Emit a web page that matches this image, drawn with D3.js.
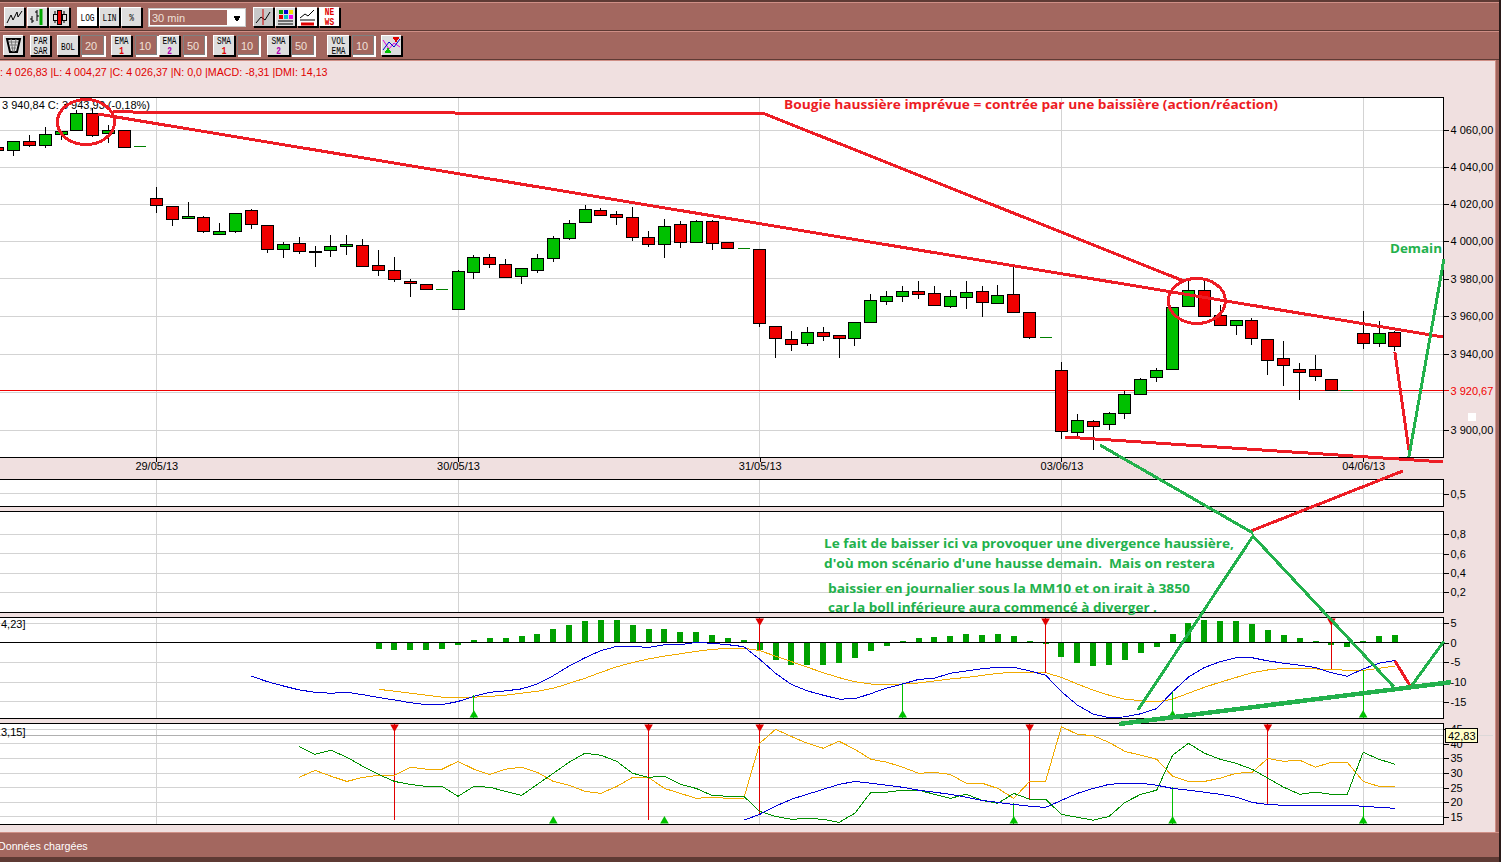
<!DOCTYPE html>
<html>
<head>
<meta charset="utf-8">
<title>CAC 30 min</title>
<script src="https://cdn.jsdelivr.net/npm/d3@7"></script>
<style>
  html, body { margin: 0; padding: 0; background: #f0e0e0; overflow: hidden; }
  svg { display: block; font-family: "Liberation Sans", Arial, sans-serif; }
  .tick text { font-size: 11px; fill: #000; font-family: "Liberation Sans", Arial, sans-serif; }
  .note { font-family: "Open Sans", sans-serif; font-weight: 700; }
</style>
</head>
<body>
<div id="chart"></div>
<script>
// candles, 30 min bars
const opens = [4050.5,4049.1,4054.0,4051.6,4057.8,4060.0,4069.2,4058.4,4060.0,4051.0,
  4023.2,4018.9,4012.4,4013.0,4003.8,4005.4,4016.7,4008.6,3995.7,3998.9,
  3994.6,3995.2,3997.3,3997.9,3987.2,3984.6,3978.7,3977.1,3974.4,3963.7,
  3983.5,3991.5,3987.8,3981.4,3984.6,3990.9,4001.6,4010.3,4016.7,4014.6,
  4013.0,4002.2,3998.4,4009.2,3999.5,4010.8,3999.5,3996.2,3995.7,3954.7,
  3947.8,3945.7,3951.6,3950.0,3948.4,3956.8,3968.0,3970.6,3973.3,3972.3,
  3965.3,3970.1,3973.3,3966.9,3971.7,3962.1,3948.9,3931.5,3899.0,3904.7,
  3903.1,3908.9,3918.9,3927.8,3932.0,3965.3,3973.9,3960.5,3955.2,3957.9,
  3947.8,3937.8,3932.0,3932.0,3926.7,3921.0,3951.0,3945.7,3951.6];
const closes = [4048.9,4054.0,4051.6,4057.8,4059.5,4069.2,4057.1,4060.0,4050.8,4051.0,
  4019.4,4011.9,4013.5,4005.4,4005.4,4015.1,4009.2,3995.7,3998.4,3994.6,
  3994.1,3997.3,3998.4,3986.6,3984.6,3979.8,3977.6,3974.4,3974.4,3984.0,
  3991.5,3987.8,3980.8,3985.6,3990.9,4001.6,4009.7,4017.3,4014.0,4013.0,
  4002.2,3998.4,4008.1,3999.5,4010.8,3998.9,3996.2,3996.2,3956.3,3948.4,
  3945.2,3951.6,3949.5,3948.4,3956.8,3968.5,3970.6,3973.3,3971.7,3965.8,
  3970.6,3972.8,3967.4,3971.2,3962.1,3948.9,3948.9,3899.5,3905.2,3902.1,
  3908.9,3918.9,3926.7,3931.5,3964.8,3973.9,3960.0,3955.2,3957.9,3948.4,
  3936.7,3934.1,3930.4,3928.3,3921.0,3921.0,3945.7,3951.0,3944.1];
const highs = [4050.9,4054.2,4057.4,4061.8,4059.5,4071.0,4072.1,4062.7,4060.0,4051.0,
  4029.2,4018.9,4021.1,4013.7,4009.7,4015.3,4017.4,4008.6,3999.5,4002.2,
  3997.3,4003.2,4003.2,4001.1,3995.2,3991.5,3979.8,3977.1,3974.4,3984.6,
  3992.6,3993.5,3990.4,3985.6,3993.5,4002.7,4011.3,4019.4,4018.0,4016.2,
  4018.4,4005.6,4011.9,4010.8,4011.3,4011.3,3999.5,3996.2,3995.7,3954.7,
  3952.1,3954.2,3954.2,3950.0,3956.8,3971.7,3973.3,3976.0,3978.7,3976.0,
  3973.9,3978.7,3976.0,3976.5,3987.8,3962.1,3948.9,3935.7,3908.4,3905.2,
  3909.4,3920.4,3927.3,3932.5,3964.8,3979.4,3979.4,3965.8,3957.9,3958.9,
  3947.8,3946.8,3935.2,3939.4,3926.7,3921.0,3962.7,3957.4,3952.1];
const lows = [4048.7,4046.2,4051.1,4050.6,4054.6,4060.0,4056.2,4052.9,4050.8,4051.0,
  4015.5,4008.4,4012.4,4004.6,4003.8,4004.6,4006.8,3993.9,3991.2,3993.4,
  3986.4,3991.8,3992.8,3986.6,3981.7,3978.5,3970.5,3974.4,3974.4,3963.7,
  3979.8,3986.0,3980.8,3977.4,3983.3,3989.1,4000.9,4010.3,4014.0,4009.0,
  4000.3,3997.1,3991.2,3996.6,3999.5,3995.5,3996.2,3996.2,3954.5,3938.1,
  3941.8,3944.5,3947.1,3938.1,3944.5,3956.8,3966.2,3967.8,3969.3,3965.8,
  3964.6,3964.0,3959.8,3966.9,3962.1,3948.1,3948.9,3895.3,3896.3,3889.5,
  3900.0,3905.8,3918.3,3925.2,3931.5,3965.3,3960.0,3955.2,3950.0,3944.7,
  3928.8,3923.1,3915.7,3925.7,3921.0,3921.0,3942.5,3943.6,3941.5];

// macd histogram starts at bar 24
const histStart = 24;
const macdHist = [-1.6,-1.86,-1.86,-1.86,-1.6,-0.6,0.68,1.18,1.18,1.7,2.2,3.46,4.47,5.5,5.74,5.74,
  4.47,3.46,3.46,2.7,2.7,1.94,1.18,0.68,-1.9,-4.39,-5.65,-5.65,-5.65,-5.15,-3.88,-2.1,-0.84,0.42,
  1.18,1.43,1.7,2.2,1.94,2.2,1.7,0.42,-0.34,-3.63,-5.15,-5.9,-5.65,-4.39,-2.6,-1.1,2.2,4.98,5.74,
  5.5,5.5,4.73,3.2,1.94,1.18,0.42,-0.68,-1.0,0.42,1.7,1.94];
// macd line starts at bar 16
const macdStart = 16;
const macdLine = [-8.5,-9.87,-10.96,-11.97,-12.56,-12.8,-12.56,-13.16,-13.9,-14.5,-15.2,-15.7,-15.7,-14.9,
  -13.6,-12.56,-12.2,-11.7,-10.46,-8.35,-5.9,-3.8,-2.0,-0.92,-0.92,-1.2,-0.5,-0.5,0.1,-0.16,-0.5,-1.0,
  -4.2,-7.75,-10.6,-12.2,-13.3,-14.3,-14.2,-12.9,-11.47,-10.46,-9.3,-9.0,-7.75,-7.16,-6.6,-6.2,-6.2,-7.16,
  -8.2,-12.4,-15.8,-18.1,-19.0,-18.8,-18.0,-16.7,-12.4,-8.7,-6.3,-4.8,-3.8,-3.8,-4.6,-5.2,-5.7,-6.3,-7.6,
  -8.5,-6.65,-5.2,-4.5];
const macdSignal = [-11.8,-12.3,-12.8,-13.3,-13.8,-13.8,-13.8,-13.6,-13.3,-12.8,-12.3,-11.55,-10.3,-9.0,-7.5,-6.1,
  -5.0,-4.1,-3.4,-2.8,-2.2,-1.7,-1.4,-1.4,-2.0,-3.4,-4.8,-6.2,-7.6,-8.85,-9.9,-10.46,-10.6,-10.46,-10.2,-9.7,
  -9.2,-8.8,-8.3,-7.75,-7.5,-7.5,-7.6,-8.8,-10.46,-12.0,-13.3,-14.3,-14.7,-15.0,-14.3,-12.8,-11.3,-10.0,-8.8,
  -7.6,-6.9,-6.5,-6.5,-6.65,-6.75,-7.0,-7.0,-6.5,-5.9];
const macdSell = [[48,-1.9],[66,-7.6],[84,-6.75]];
const macdBuy = [[30,-13.3],[57,-10.46],[74,-12.4],[86,-7.0]];

// dmi lines
const dmiStart = 19;
const dmiGreen = [39.0,36.4,37.8,35.4,32.3,29.5,27.1,26.1,25.4,25.4,22.0,25.4,25.1,23.7,22.3,26.1,29.9,33.7,36.8,36.1,
  34.0,29.9,28.5,28.9,26.1,24.7,22.3,22.0,22.0,16.8,15.1,14.1,14.4,14.1,13.07,16.2,23.4,23.4,24.1,24.1,
  22.7,21.3,22.7,20.6,19.6,23.0,21.0,21.0,15.8,14.8,13.8,15.1,19.9,22.7,24.1,36.1,40.2,36.8,34.7,33.3,
  31.3,28.2,25.1,22.7,23.4,22.7,22.7,37.1,34.7,33.0];
const dmiOrange = [28.5,30.9,28.9,27.1,28.5,29.2,29.2,32.0,31.3,31.3,34.0,31.3,29.5,31.3,32.0,30.2,27.1,25.8,23.7,23.0,
  25.4,28.5,28.5,24.7,23.0,21.3,21.7,21.3,21.3,40.2,45.0,42.5,40.2,38.5,40.9,38.1,34.7,33.7,32.0,29.9,
  30.2,29.5,26.5,26.5,24.7,21.3,27.1,27.1,45.9,43.3,42.8,40.5,37.4,36.1,34.7,28.9,27.1,27.1,28.2,29.9,
  30.2,35.0,34.0,34.4,32.0,33.7,33.7,27.1,25.4,25.4];
const adxStart = 47;
const adxLine = [13.8,15.8,18.6,21.0,22.7,24.4,26.1,27.1,26.5,25.8,25.1,24.1,23.4,22.7,21.7,20.6,19.9,19.2,18.6,18.2,
  20.6,23.0,24.7,26.1,26.5,26.5,25.8,24.7,24.1,23.4,22.7,21.7,19.9,19.2,18.9,18.9,18.9,18.9,18.9,18.6,18.2,17.9];
const dmiSell = [[25,13.9],[41,13.9],[48,15.8],[65,21.2],[80,19.4]];
const dmiBuy = [[35,null],[42,null],[64,19.6],[74,25.3],[86,18.7]];

const dateBars = [10, 29, 48, 67, 86];
const dateLabels = ["29/05/13", "30/05/13", "31/05/13", "03/06/13", "04/06/13"];
const priceGrid = [3900, 3920, 3940, 3960, 3980, 4000, 4020, 4040, 4060];
const priceTicks = [3900, 3940, 3960, 3980, 4000, 4020, 4040, 4060];
const lastPrice = 3920.67;
const dmiCurrent = 42.83;

// hand drawn lines, [bar, value] on the price scale
const redPriceLines = [
  [[7.27,4070.0],[48.33,4068.9],[74.71,3978.8]],
  [[6.33,4068.9],[91.03,3949.1]],
  [[67.22,3896.5],[91.03,3883.5]],
  [[88.0,3941.1],[88.88,3889.7]],
  [[78.93,3847.7],[88.5,3878.8]]
];
const greenPriceLines = [
  [[88.88,3886.1],[91.09,3990.6]],
  [[69.43,3892.3],[79.06,3846.7]],
  [[71.82,3756.5],[79.06,3845.1],[87.94,3768.1]]
];
// same thing on the macd scale
const redMacdLines = [[[88.0,-4.6],[89.0,-11.2]]];
const greenMacdLines = [[[89.0,-11.2],[91.09,0.4]]];
const thickMacdLine = [[70.62,-20.6],[91.53,-10.0]];
const circles = [[5.57,4064.5],[75.53,3968.2]];

const width = 1501, height = 862;
const plotRight = 1443.5;
const brown = "#a3675f", pink = "#f0e0e0", gridCol = "#d3d3d3";
const lightEdge = "#cf8f86", darkEdge = "#5e3a34";
const upCol = "#00c000", downCol = "#f00000", noteRed = "#ed1c24", noteGreen = "#22b14c";

const svg = d3.select("#chart").append("svg")
  .attr("width", width).attr("height", height).attr("viewBox", `0 0 ${width} ${height}`);

svg.append("rect").attr("width", width).attr("height", height).attr("fill", pink);

const x = d3.scaleLinear().domain([0, 88]).range([-2.5, 1394.9]);
const yPrice = d3.scaleLog().domain([3900, 4060]).range([430.3, 130.3]);
const yVol = d3.scaleLinear().domain([0, 1]).range([507.5, 479.5]);
const yOsc = d3.scaleLinear().domain([0, 1]).range([611.7, 515]);
const yMacd = d3.scaleLinear().domain([-15, 5]).range([701.9, 623]);
const yDmi = d3.scaleLinear().domain([15, 45]).range([816.7, 729.3]);

const frFormat = d3.formatLocale({decimal: ",", thousands: "\u00a0", grouping: [3], currency: ["", ""]});

// one white box per panel, with vertical date grid
function addPanel(top, bottom, yScale, gridVals, tickVals, fmt) {
  const g = svg.append("g");
  g.append("rect").attr("x", -1).attr("y", top).attr("width", plotRight + 1).attr("height", bottom - top)
    .attr("fill", "#fff");
  g.selectAll(".vg").data(dateBars).enter().append("line")
    .attr("x1", d => x(d)).attr("x2", d => x(d)).attr("y1", top).attr("y2", bottom)
    .attr("stroke", gridCol).attr("shape-rendering", "crispEdges");
  g.selectAll(".hg").data(gridVals).enter().append("line")
    .attr("x1", 0).attr("x2", plotRight).attr("y1", d => yScale(d)).attr("y2", d => yScale(d))
    .attr("stroke", gridCol).attr("shape-rendering", "crispEdges");
  const axis = svg.append("g").attr("transform", `translate(${plotRight},0)`)
    .call(d3.axisRight(yScale).tickValues(tickVals).tickFormat(fmt).tickSize(5).tickPadding(2));
  axis.select(".domain").remove();
  axis.selectAll("line").attr("stroke", "#000").attr("shape-rendering", "crispEdges");
  return g;
}
function addFrame(top, bottom) {
  svg.append("rect").attr("x", -1).attr("y", top).attr("width", plotRight + 1).attr("height", bottom - top)
    .attr("fill", "none").attr("stroke", "#000").attr("shape-rendering", "crispEdges");
}

const fmtPrice = d => frFormat.format(",.2f")(d);
const mainPanel = addPanel(97.5, 457.5, yPrice, priceGrid, priceTicks, fmtPrice);
addPanel(479.5, 506.5, yVol, [0.5], [0.5], d => frFormat.format(".1f")(d));
addPanel(511.5, 612.5, yOsc, [0.2, 0.4, 0.6, 0.8], [0.2, 0.4, 0.6, 0.8], d => frFormat.format(".1f")(d));
const macdPanel = addPanel(617.5, 718.5, yMacd, [-15, -10, -5, 0, 5], [-15, -10, -5, 0, 5], d => String(d).replace("\u2212", "-"));
const dmiPanel = addPanel(723.5, 824.5, yDmi, [15, 20, 25, 30, 35, 40, 45], [15, 20, 25, 30, 35, 40, 45], d => d);

// date axis under the price panel
const dateAxis = svg.append("g").attr("transform", "translate(0,457.5)")
  .call(d3.axisBottom(x).tickValues(dateBars).tickFormat((d, i) => dateLabels[i]).tickSize(4).tickPadding(1));
dateAxis.select(".domain").remove();
dateAxis.selectAll("line").attr("stroke", "#000").attr("shape-rendering", "crispEdges");

// price panel
mainPanel.append("line").attr("x1", 0).attr("x2", plotRight + 5)
  .attr("y1", yPrice(lastPrice)).attr("y2", yPrice(lastPrice))
  .attr("stroke", "#f00000").attr("shape-rendering", "crispEdges");
svg.append("text").attr("x", plotRight + 7).attr("y", yPrice(lastPrice) + 4)
  .attr("font-size", 11).attr("fill", "#f00000").text(fmtPrice(lastPrice));

const candles = opens.map((o, i) => ({i, o, c: closes[i], h: highs[i], l: lows[i]}));
const candleG = mainPanel.append("g").attr("shape-rendering", "crispEdges");
candleG.selectAll(".wick").data(candles.filter(d => d.o !== d.c)).enter().append("line")
  .attr("x1", d => x(d.i)).attr("x2", d => x(d.i))
  .attr("y1", d => yPrice(d.h)).attr("y2", d => yPrice(d.l)).attr("stroke", "#000");
candleG.selectAll(".body").data(candles.filter(d => d.o !== d.c)).enter().append("rect")
  .attr("x", d => x(d.i) - 6).attr("width", 12)
  .attr("y", d => yPrice(Math.max(d.o, d.c)))
  .attr("height", d => Math.max(1, yPrice(Math.min(d.o, d.c)) - yPrice(Math.max(d.o, d.c))))
  .attr("fill", d => d.c > d.o ? upCol : downCol).attr("stroke", "#000");
candleG.selectAll(".flat").data(candles.filter(d => d.o === d.c)).enter().append("line")
  .attr("x1", d => x(d.i) - 6).attr("x2", d => x(d.i) + 6)
  .attr("y1", d => yPrice(d.c)).attr("y2", d => yPrice(d.c)).attr("stroke", "#008000");

svg.append("text").attr("x", 2).attr("y", 109).attr("font-size", 11).attr("fill", "#000")
  .text("3 940,84  C: 3 943,93 (-0,18%)");
svg.append("rect").attr("x", 1468).attr("y", 413).attr("width", 8).attr("height", 8).attr("fill", "#fff");

// macd panel
macdPanel.selectAll(".bar").data(macdHist).enter().append("rect")
  .attr("x", (d, i) => x(i + histStart) - 3).attr("width", 6)
  .attr("y", d => yMacd(Math.max(0, d)))
  .attr("height", d => Math.abs(yMacd(d) - yMacd(0)))
  .attr("fill", "#00a000").attr("shape-rendering", "crispEdges");
macdPanel.append("line").attr("x1", 0).attr("x2", plotRight).attr("y1", yMacd(0)).attr("y2", yMacd(0))
  .attr("stroke", "#000").attr("shape-rendering", "crispEdges");

function seriesLine(parent, values, start, yScale, col, w) {
  const line = d3.line().x((d, i) => x(i + start)).y(d => yScale(d));
  parent.append("path").attr("d", line(values)).attr("fill", "none").attr("stroke", col).attr("stroke-width", w)
    .attr("shape-rendering", "crispEdges");
}
seriesLine(macdPanel, macdSignal, histStart, yMacd, "#f0aa00", 1);
seriesLine(macdPanel, macdLine, macdStart, yMacd, "#0000d8", 1);

// buy and sell flags, red from the top edge, green from the bottom edge
function addFlags(parent, sells, buys, yScale, top, bottom) {
  const sym = d3.symbol().type(d3.symbolTriangle).size(32);
  parent.selectAll(".sl").data(sells).enter().append("line")
    .attr("x1", d => x(d[0])).attr("x2", d => x(d[0])).attr("y1", top).attr("y2", d => yScale(d[1]))
    .attr("stroke", "#e00000").attr("shape-rendering", "crispEdges");
  parent.selectAll(".st").data(sells).enter().append("path").attr("d", sym)
    .attr("transform", d => `translate(${x(d[0])},${top + 3}) rotate(180)`).attr("fill", "#e00000");
  parent.selectAll(".bl").data(buys.filter(d => d[1] !== null)).enter().append("line")
    .attr("x1", d => x(d[0])).attr("x2", d => x(d[0])).attr("y1", bottom).attr("y2", d => yScale(d[1]))
    .attr("stroke", "#00c000").attr("shape-rendering", "crispEdges");
  parent.selectAll(".bt").data(buys).enter().append("path").attr("d", sym)
    .attr("transform", d => `translate(${x(d[0])},${bottom - 3})`).attr("fill", "#00c000");
}
addFlags(macdPanel, macdSell, macdBuy, yMacd, 618, 718);

svg.append("text").attr("x", 1).attr("y", 628).attr("font-size", 11).text("4,23]");

// dmi panel
dmiPanel.append("line").attr("x1", 0).attr("x2", plotRight).attr("y1", yDmi(dmiCurrent)).attr("y2", yDmi(dmiCurrent))
  .attr("stroke", "#b0b0b0").attr("shape-rendering", "crispEdges");
svg.append("line").attr("x1", plotRight + 30).attr("x2", 1493).attr("y1", yDmi(dmiCurrent)).attr("y2", yDmi(dmiCurrent))
  .attr("stroke", "#dcd8d8").attr("shape-rendering", "crispEdges");
addFlags(dmiPanel, dmiSell, dmiBuy, yDmi, 724, 824);
seriesLine(dmiPanel, dmiOrange, dmiStart, yDmi, "#f0aa00", 1);
seriesLine(dmiPanel, dmiGreen, dmiStart, yDmi, "#009000", 1);
seriesLine(dmiPanel, adxLine, adxStart, yDmi, "#0000d8", 1);
svg.append("text").attr("x", 1).attr("y", 736).attr("font-size", 11).text("3,15]");

const tip = svg.append("g").attr("transform", `translate(${plotRight + 2},${yDmi(dmiCurrent) - 7})`);
tip.append("rect").attr("width", 32).attr("height", 14).attr("fill", "#ffffc8").attr("stroke", "#000")
  .attr("shape-rendering", "crispEdges");
tip.append("text").attr("x", 2.5).attr("y", 11).attr("font-size", 11).text(frFormat.format(".2f")(dmiCurrent));

addFrame(97.5, 457.5);
addFrame(479.5, 506.5);
addFrame(511.5, 612.5);
addFrame(617.5, 718.5);
addFrame(723.5, 824.5);

// annotations drawn on top of the screenshot
const notes = svg.append("g").attr("shape-rendering", "crispEdges");
const priceLine = d3.line().x(d => x(d[0])).y(d => yPrice(d[1]));
const macdNote = d3.line().x(d => x(d[0])).y(d => yMacd(d[1]));
function drawNotes(data, lineGen, col, w) {
  notes.selectAll(null).data(data).enter().append("path").attr("d", lineGen)
    .attr("fill", "none").attr("stroke", col).attr("stroke-width", w);
}
drawNotes(redPriceLines, priceLine, noteRed, 3);
drawNotes(greenPriceLines, priceLine, noteGreen, 3);
drawNotes(redMacdLines, macdNote, noteRed, 3);
drawNotes(greenMacdLines, macdNote, noteGreen, 3);
drawNotes([thickMacdLine], macdNote, noteGreen, 4.5);
notes.selectAll("ellipse").data(circles).enter().append("ellipse")
  .attr("cx", d => x(d[0])).attr("cy", d => yPrice(d[1])).attr("rx", 28.5).attr("ry", 22.5)
  .attr("fill", "none").attr("stroke", noteRed).attr("stroke-width", 3);

const noteTexts = [
  {t: "Bougie haussière imprévue = contrée par une baissière (action/réaction)", x: 784, y: 109, c: noteRed, w: 494},
  {t: "Demain", x: 1390, y: 253, c: noteGreen, w: 52},
  {t: "Le fait de baisser ici va provoquer une divergence haussière,", x: 824, y: 548, c: noteGreen, w: 410},
  {t: "d'où mon scénario d'une hausse demain.  Mais on restera", x: 824, y: 568, c: noteGreen, w: 391},
  {t: "baissier en journalier sous la MM10 et on irait à 3850", x: 828, y: 593, c: noteGreen, w: 362},
  {t: "car la boll inférieure aura commencé à diverger .", x: 828, y: 612, c: noteGreen, w: 329}
];
notes.selectAll("text").data(noteTexts).enter().append("text").attr("class", "note")
  .attr("x", d => d.x).attr("y", d => d.y).attr("font-size", 13).attr("fill", d => d.c)
  .attr("xml:space", "preserve").attr("textLength", d => d.w).attr("lengthAdjust", "spacingAndGlyphs").text(d => d.t);

// toolbars and status bar
const chrome = svg.append("g").attr("shape-rendering", "crispEdges");
function band(y, h) {
  chrome.append("rect").attr("x", 0).attr("y", y).attr("width", width).attr("height", h).attr("fill", brown);
  chrome.append("rect").attr("x", 0).attr("y", y).attr("width", width).attr("height", 1).attr("fill", lightEdge);
  chrome.append("rect").attr("x", 0).attr("y", y + h - 1).attr("width", width).attr("height", 1).attr("fill", darkEdge);
}
chrome.append("rect").attr("x", 0).attr("y", 0).attr("width", width).attr("height", 2).attr("fill", darkEdge);
band(2, 29);
band(31, 29);
chrome.append("rect").attr("x", 0).attr("y", 60).attr("width", width).attr("height", 1).attr("fill", lightEdge);
band(832, 26);
chrome.append("rect").attr("x", 0).attr("y", 858).attr("width", width).attr("height", 4).attr("fill", darkEdge);
// right border of the window
chrome.append("rect").attr("x", 1495).attr("y", 60).attr("width", 4).attr("height", 772).attr("fill", brown);
chrome.append("rect").attr("x", 1495).attr("y", 60).attr("width", 1).attr("height", 772).attr("fill", lightEdge);
chrome.append("rect").attr("x", 1499).attr("y", 0).attr("width", 2).attr("height", 862).attr("fill", "#2a1a18");

chrome.append("text").attr("x", -2).attr("y", 850).attr("font-size", 10.7).attr("fill", "#fff").text("Données chargées");
chrome.append("text").attr("x", 0).attr("y", 76).attr("font-size", 10.7).attr("fill", "#e00000")
  .text(": 4 026,83 |L: 4 004,27 |C: 4 026,37 |N: 0,0 |MACD: -8,31 |DMI: 14,13");

function button(bx, by, w, h, lines, fill) {
  const b = chrome.append("g").attr("transform", `translate(${bx},${by})`);
  b.append("rect").attr("x", 0.5).attr("y", 0.5).attr("width", w).attr("height", h).attr("fill", "#000");
  b.append("rect").attr("x", 0).attr("y", 0).attr("width", w - 1).attr("height", h - 1).attr("fill", "#fff");
  b.append("rect").attr("x", 1).attr("y", 1).attr("width", w - 2).attr("height", h - 2).attr("fill", fill || "#dedede");
  const first = lines.length === 1 ? h / 2 + 4 : h / 2 - 2;
  lines.forEach((l, i) => {
    const label = l.t || l;
    b.append("text").attr("x", w / 2).attr("y", first + i * 10).attr("text-anchor", "middle")
      .attr("font-size", 10).attr("fill", l.c || "#000").attr("font-family", "Liberation Mono, DejaVu Sans Mono, monospace")
      .attr("font-weight", l.b ? 700 : 400)
      .attr("textLength", label.length * 4.7).attr("lengthAdjust", "spacingAndGlyphs").text(label);
  });
  return b;
}
function field(bx, by, w, h, txt) {
  const f = chrome.append("g").attr("transform", `translate(${bx},${by})`);
  f.append("rect").attr("x", 0.5).attr("y", 0.5).attr("width", w).attr("height", h).attr("fill", "#fff");
  f.append("rect").attr("x", 0.5).attr("y", 0.5).attr("width", w - 2).attr("height", h - 2).attr("fill", brown).attr("stroke", "#808080");
  f.append("text").attr("x", 4).attr("y", h / 2 + 4).attr("font-size", 11).attr("fill", "#f0e0d8").text(txt);
}
const glyph = (b, d, c, w) => b.append("path").attr("d", d).attr("fill", "none").attr("stroke", c || "#000")
  .attr("stroke-width", w || 1).attr("shape-rendering", "auto");

let b = button(4, 7, 21, 20, []);
glyph(b, "M3 16L7 8L9 13L13 5L14 10L18 4");
b = button(27, 7, 21, 20, []);
glyph(b, "M5 9V16M3 12H5M5 14H7M10 3V14M8 5H10M10 9H12"); glyph(b, "M14 2V18", "#0a0", 3);
b = button(49, 7, 21, 20, []);
glyph(b, "M6 4V16M15 4V16"); b.append("rect").attr("x", 8).attr("y", 3).attr("width", 4).attr("height", 14).attr("fill", "#f00000").attr("stroke", "#000");
b.append("rect").attr("x", 4).attr("y", 7).attr("width", 4).attr("height", 6).attr("fill", "#dedede").attr("stroke", "#000");
b.append("rect").attr("x", 13).attr("y", 7).attr("width", 4).attr("height", 6).attr("fill", "#dedede").attr("stroke", "#000");
button(77, 7, 21, 20, ["LOG"], "#fff");
button(99, 7, 21, 20, ["LIN"]);
button(121, 7, 21, 20, ["%"]);

chrome.append("rect").attr("x", 148.5).attr("y", 8.5).attr("width", 97).attr("height", 18).attr("fill", "#fff").attr("stroke", "#c8c8c8");
chrome.append("rect").attr("x", 150).attr("y", 10).attr("width", 77).attr("height", 15).attr("fill", brown);
chrome.append("text").attr("x", 152).attr("y", 22).attr("font-size", 11).attr("fill", "#f0e0d8").text("30 min");
chrome.append("path").attr("d", d3.symbol().type(d3.symbolTriangle).size(22)).attr("transform", "translate(237,18) rotate(180)").attr("fill", "#000");

b = button(253, 7, 21, 20, [], "#c8c8c8");
glyph(b, "M3 16L8 10L12 13L17 5"); glyph(b, "M10 2V18", "#d00000");
b = button(275, 7, 21, 20, []);
[["#00a000", 4, 3], ["#0000d0", 9, 3], ["#f8e000", 14, 3], ["#e00000", 4, 8], ["#00c8c8", 9, 8], ["#f000f0", 14, 8]].forEach(c =>
  b.append("rect").attr("x", c[1]).attr("y", c[2]).attr("width", 4).attr("height", 4).attr("fill", c[0]));
glyph(b, "M3 14H18M3 17H18");
b = button(297, 7, 21, 20, [], "#fff");
glyph(b, "M3 11L8 7L11 9L17 3"); glyph(b, "M3 13H18"); glyph(b, "M4 17H17", "#e00000", 3);
button(319, 7, 21, 20, [{t: "NE", c: "#e00000", b: 1}, {t: "WS", c: "#e00000", b: 1}], "#fff");

b = button(3, 35, 21, 21, []);
glyph(b, "M4 4H17L14 17H7Z", "#000", 2); glyph(b, "M6 7H15M7 10H14M8 13H13M8 4L10 17M13 4L11 17", "#777");
button(30, 35, 21, 21, ["PAR", "SAR"]);
button(57, 35, 22, 21, ["BOL"]);
field(81, 35, 24, 21, "20");
button(111, 35, 21, 21, ["EMA", {t: "1", c: "#e00000", b: 1}]);
field(135, 35, 23, 21, "10");
button(159, 35, 21, 21, ["EMA", {t: "2", c: "#b000b0", b: 1}]);
field(183, 35, 23, 21, "50");
button(213, 35, 22, 21, ["SMA", {t: "1", c: "#e00000", b: 1}]);
field(237, 35, 23, 21, "10");
button(267, 35, 23, 21, ["SMA", {t: "2", c: "#b000b0", b: 1}]);
field(291, 35, 24, 21, "50");
button(327, 35, 23, 21, ["VOL", "EMA"]);
field(352, 35, 23, 21, "10");
b = button(381, 35, 21, 21, []);
glyph(b, "M2 5L8 14L13 8L19 12", "#e000e0"); glyph(b, "M2 15L8 7L13 12L19 4", "#0000d0");
b.append("path").attr("d", d3.symbol().type(d3.symbolTriangle).size(20)).attr("transform", "translate(15,4) rotate(180)").attr("fill", "#e00000");
b.append("path").attr("d", d3.symbol().type(d3.symbolTriangle).size(20)).attr("transform", "translate(7,16)").attr("fill", "#00c000");
</script>
</body>
</html>
